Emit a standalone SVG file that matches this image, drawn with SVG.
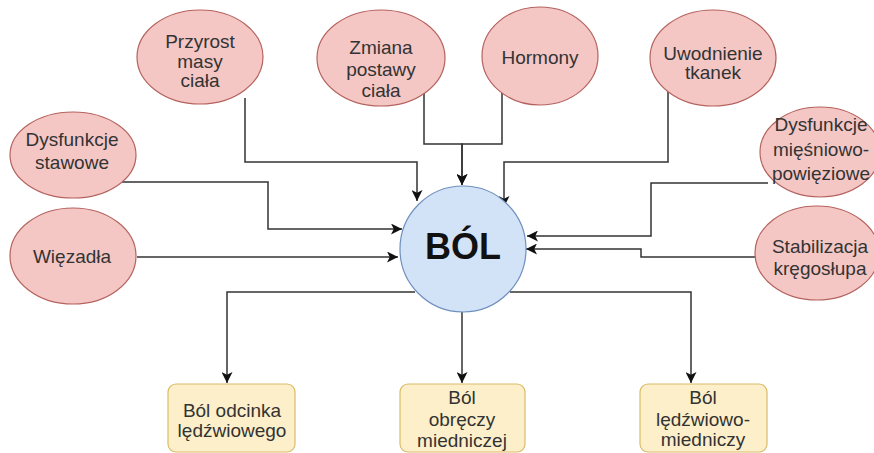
<svg xmlns="http://www.w3.org/2000/svg" width="874" height="453" viewBox="0 0 874 453">
<style>
.cause ellipse{fill:#f4c7c5;stroke:#b5625e;stroke-width:1.2}
.out rect{fill:#fdefc9;stroke:#d9bc6a;stroke-width:1.2}
.center circle{fill:#d3e3f7;stroke:#6f8fbd;stroke-width:1.2}
text{font-family:"Liberation Sans",Arial,sans-serif;font-size:19px;fill:#333;text-anchor:middle}
.big{font-size:36px;font-weight:bold;fill:#111}
.conn path{fill:none;stroke:#333;stroke-width:1.5}
</style>
<defs>
<marker id="arr" viewBox="0 0 10 10" refX="10" refY="5" markerWidth="12" markerHeight="11" markerUnits="userSpaceOnUse" orient="auto">
<path d="M0,0 L10,5 L0,10 L2.5,5 Z" fill="#111"/>
</marker>
</defs>
<rect width="874" height="453" fill="#fff"/>
<g class="conn">
<path d="M245,98 V162 H417 V201" marker-end="url(#arr)"/>
<path d="M122,182 H268 V229 H402" marker-end="url(#arr)"/>
<path d="M137,257 H398" marker-end="url(#arr)"/>
<path d="M424,93 V144 H462 V185" marker-end="url(#arr)"/>
<path d="M502,90 V144 H462 V185" marker-end="url(#arr)"/>
<path d="M668,90 V162 H504 V207" marker-end="url(#arr)"/>
<path d="M768,183 H651 V236 H527" marker-end="url(#arr)"/>
<path d="M757,257 H641 V249 H526" marker-end="url(#arr)"/>
<path d="M415,292 H227 V383" marker-end="url(#arr)"/>
<path d="M462,312 V383" marker-end="url(#arr)"/>
<path d="M510,292 H691 V383" marker-end="url(#arr)"/>
</g>
<g id="przyrost" class="cause"><ellipse cx="200" cy="57" rx="63" ry="47"/>
<text x="200" y="48">Przyrost</text><text x="200" y="68">masy</text><text x="200" y="87">ciała</text></g>
<g id="zmiana" class="cause"><ellipse cx="381" cy="58" rx="64" ry="48"/>
<text x="381" y="54">Zmiana</text><text x="381" y="76">postawy</text><text x="381" y="97">ciała</text></g>
<g id="hormony" class="cause"><ellipse cx="540" cy="56" rx="58" ry="49"/>
<text x="540" y="64">Hormony</text></g>
<g id="uwodnienie" class="cause"><ellipse cx="713" cy="58" rx="63" ry="48"/>
<text x="713" y="60">Uwodnienie</text><text x="713" y="79">tkanek</text></g>
<g id="stawowe" class="cause"><ellipse cx="73" cy="155" rx="63" ry="43"/>
<text x="72" y="146">Dysfunkcje</text><text x="72" y="169">stawowe</text></g>
<g id="wiezadla" class="cause"><ellipse cx="73" cy="256" rx="63" ry="48"/>
<text x="72" y="263">Więzadła</text></g>
<g id="miesniowo" class="cause"><ellipse cx="820" cy="152" rx="60" ry="45"/>
<text x="821" y="131">Dysfunkcje</text><text x="821" y="156">mięśniowo-</text><text x="821" y="180">powięziowe</text></g>
<g id="stabilizacja" class="cause"><ellipse cx="817" cy="253" rx="62" ry="47"/>
<text x="820" y="253">Stabilizacja</text><text x="820" y="275">kręgosłupa</text></g>
<g id="bol" class="center"><circle cx="463" cy="249" r="63"/>
<text class="big" x="463" y="259">BÓL</text></g>
<g id="odcinka" class="out"><rect x="168" y="384" width="127" height="68" rx="8"/>
<text x="232" y="417">Ból odcinka</text><text x="232" y="437">lędźwiowego</text></g>
<g id="obreczy" class="out"><rect x="400" y="384" width="125" height="68" rx="8"/>
<text x="462" y="404">Ból</text><text x="462" y="426">obręczy</text><text x="462" y="447">miedniczej</text></g>
<g id="ledzwiowo" class="out"><rect x="640" y="384" width="127" height="68" rx="8"/>
<text x="703" y="404">Ból</text><text x="703" y="426">lędźwiowo-</text><text x="703" y="446">miedniczy</text></g>
</svg>
